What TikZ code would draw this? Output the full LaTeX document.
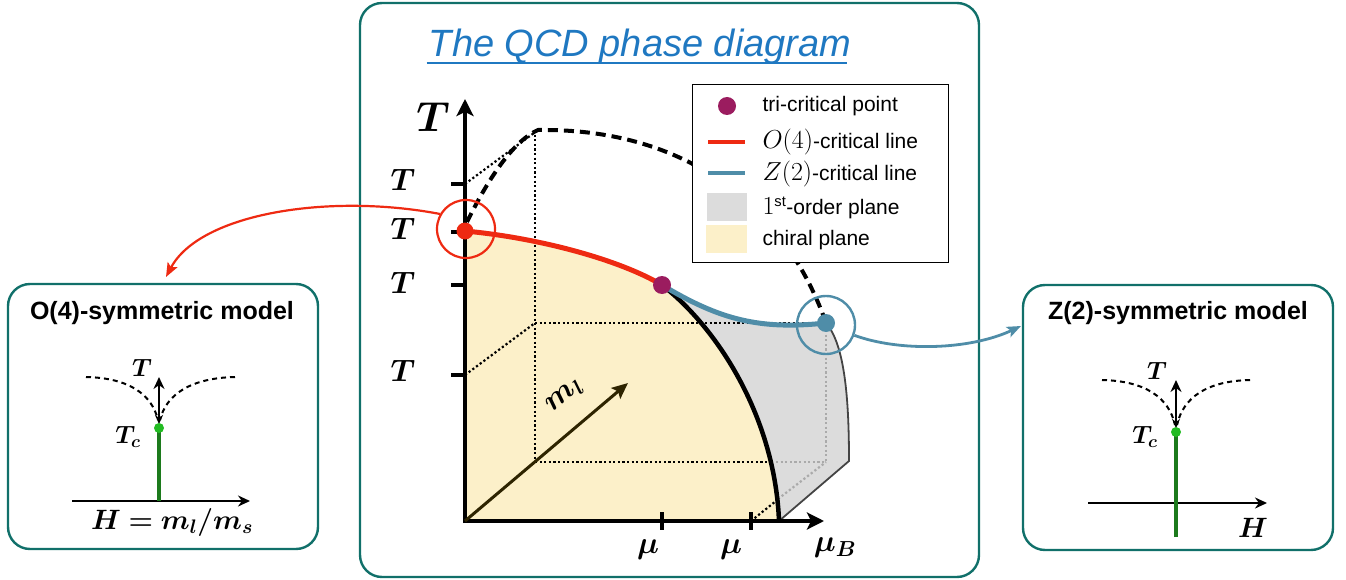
\documentclass[tikz,border=0pt]{standalone}
\usepackage{fix-cm}
\usepackage{amsmath}
\usepackage{bm}
\usepackage{fontspec}
\setsansfont{Liberation Sans}
\usetikzlibrary{arrows.meta}
\definecolor{teal1}{HTML}{11706A}
\definecolor{tblue}{HTML}{1F78C1}
\definecolor{cred}{HTML}{EE2A12}
\definecolor{cblue}{HTML}{4F8DA8}
\definecolor{cpurple}{HTML}{9B1C5F}
\definecolor{cyellow}{HTML}{FCF0C9}
\definecolor{cgray}{HTML}{DCDCDC}
\definecolor{cgreen}{HTML}{1C7A1C}
\definecolor{cgreenb}{HTML}{22BB22}
\definecolor{cbrown}{HTML}{2E2400}
\definecolor{dgray}{HTML}{444444}
\definecolor{lgray}{HTML}{AAAAAA}
\newcommand{\legmath}[1]{{\fontsize{26}{28}\selectfont$#1$}}
\tikzset{
  panel/.style={draw=teal1, line width=2.4pt, rounded corners=22pt, inner sep=0pt},
  axisline/.style={line width=3.5pt, -{Stealth[length=17pt,width=17pt,inset=4pt]}},
  tickline/.style={line width=3.5pt},
  dotline/.style={line width=2.2pt, dash pattern=on 2.2pt off 2.4pt},
  gdotline/.style={line width=2.2pt, lgray, dash pattern=on 2.2pt off 2.4pt},
  bigdash/.style={line width=4pt, dash pattern=on 10pt off 6pt},
  smalldash/.style={line width=2pt, dash pattern=on 5pt off 4pt},
  mlab/.style={font=\fontsize{31}{34}\selectfont},
  slab/.style={font=\fontsize{25}{28}\selectfont},
  legtext/.style={font=\sffamily\fontsize{21}{24}\selectfont, anchor=west},
  boxtitle/.style={font=\sffamily\bfseries\fontsize{25}{28}\selectfont},
  dot/.style={circle, inner sep=0pt, minimum size=#1},
  ring/.style={circle, inner sep=0pt, minimum size=58pt, line width=2.2pt},
  smallax/.style={line width=2.2pt, -{Stealth[length=12pt,width=11pt]}},
  dblarrow/.style={line width=1.8pt, {Stealth[length=9pt,width=8pt]}-{Stealth[length=12pt,width=11pt]}}
}
\begin{document}
\begin{tikzpicture}[x=1pt,y=-1pt]
\useasboundingbox (0,0) rectangle (1346,580);
% panels
\node[panel, minimum width=619pt, minimum height=574pt] (cbox) at (669.5,290) {};
\node[panel, minimum width=310pt, minimum height=265pt] (lbox) at (163,416.5) {};
\node[panel, minimum width=310pt, minimum height=265pt] (rbox) at (1178,417.5) {};
% title
\node[font=\sffamily\itshape\fontsize{38}{41}\selectfont, text=tblue, anchor=base, inner sep=0pt] (title) at (640,57) {The QCD phase diagram};
\draw[tblue, line width=1.6pt] (title.base west) ++(-2,6) -- ++(420,0);
% fills
\fill[cyellow] (465,521) -- (465,231) .. controls (540,238) and (620,260) .. (662,285)
  .. controls (720,330) and (775,420) .. (779,521) -- cycle;
\fill[cgray] (662,285) .. controls (720,330) and (775,420) .. (779,521) -- (849,461)
  .. controls (849,400) and (845,345) .. (826,323)
  .. controls (760,330) and (720,320) .. (662,285) -- cycle;
\draw[dgray, line width=1.8pt] (779,521) -- (849,461) .. controls (849,400) and (845,345) .. (826,323);
% dotted box lines
\draw[dotline] (465,184) -- (538,130);
\draw[dotline] (535,130) -- (535,462);
\draw[dotline] (535,462) -- (773,462);
\draw[gdotline] (776,462) -- (826,462);
\draw[dotline] (465,375) -- (535,323);
\draw[dotline] (535,323) -- (826,323);
\draw[gdotline] (826,330) -- (826,462);
\draw[dotline] (751,521) -- (776,501);
\draw[gdotline] (778,499) -- (826,462);
% dashed boundary
\draw[bigdash] (467,222) .. controls (490,175) and (515,140) .. (538,130)
  .. controls (700,128) and (790,220) .. (826,323);
% axes
\draw[axisline] (465,523) -- (465,99);
\draw[axisline] (463,521) -- (824,521);
\draw[cbrown, line width=3pt, -{Stealth[length=16pt,width=14pt,inset=3pt]}] (465,521) -- (628,383);
\node[mlab, rotate=40] (ml) at (565,396) {$\bm{m_l}$};
% ticks
\foreach \yy in {184,232,285,375} \draw[tickline] (451,\yy) -- (465,\yy);
\foreach \xx in {662,751} \draw[tickline] (\xx,512) -- (\xx,530);
\node[font=\fontsize{42}{46}\selectfont] (Tbig) at (433,117) {$\bm{T}$};
\node[mlab] (T1) at (403,180) {$\bm{T}$};
\node[mlab] (T2) at (403,229) {$\bm{T}$};
\node[mlab] (T3) at (403,283) {$\bm{T}$};
\node[mlab] (T4) at (403,371) {$\bm{T}$};
\node[mlab] (mu1) at (648,550) {$\bm{\mu}$};
\node[mlab] (mu2) at (731,550) {$\bm{\mu}$};
\node[mlab] (muB) at (835,548) {$\bm{\mu_B}$};
% critical lines
\draw[cred, line width=5pt] (465,231) .. controls (540,238) and (620,260) .. (662,285);
\draw[line width=4.5pt] (662,285) .. controls (720,330) and (775,420) .. (779,521);
\draw[cblue, line width=5pt] (662,285) .. controls (720,320) and (760,330) .. (826,323);
\node[dot=17pt, fill=cred] (rdot) at (465,231) {};
\node[dot=18pt, fill=cpurple] (pdot) at (662,285) {};
\node[dot=18pt, fill=cblue] (bdot) at (826,323) {};
\node[ring, draw=cred] (redring) at (466,229) {};
\node[ring, draw=cblue, line width=2.4pt] (bluering) at (826,325) {};
% legend
\node[draw, line width=1pt, fill=white, minimum width=256pt, minimum height=177pt, inner sep=0pt] (legend) at (820,173.5) {};
\node[dot=18pt, fill=cpurple] (lg1) at (727,106) {};
\draw[cred, line width=4.5pt] (708,142) -- (745,142);
\draw[cblue, line width=4.5pt] (708,173) -- (745,173);
\fill[cgray] (707,193) rectangle (747,221);
\fill[cyellow] (706,225) rectangle (747,253);
\node[legtext] (t1) at (759,106) {tri-critical point};
\node[legtext] (t2) at (759,142) {\legmath{O(4)}-critical line};
\node[legtext] (t3) at (759,174) {\legmath{Z(2)}-critical line};
\node[legtext] (t4) at (759,208) {\legmath{1}\textsuperscript{st}-order plane};
\node[legtext] (t5) at (759,240) {chiral plane};
% connectors
\coordinate (lend) at (166,277);
\coordinate (rend) at (1021,326);
\draw[cred, line width=2.2pt, -{Stealth[length=14pt,width=11pt,inset=3pt]}] (redring.150) .. controls (330,193) and (200,213) .. (lend);
\draw[cblue, line width=2.8pt, -{Stealth[length=14pt,width=11pt,inset=3pt]}] (bluering.-20) .. controls (900,352) and (970,350) .. (rend);
% left box
\node[boxtitle] (ltitle) at (162,313) {O(4)-symmetric model};
\draw[smallax] (72,501) -- (250,501);
\draw[cgreen, line width=3.5pt] (159,501) -- (159,428);
\draw[smalldash] (86,377) .. controls (130,378) and (152,395) .. (158,420);
\draw[smalldash] (235,377) .. controls (190,378) and (166,395) .. (160,420);
\draw[dblarrow] (159,424) -- (159,377);
\node[dot=10pt, fill=cgreenb] (lg) at (159,428) {};
\node[slab] (lT) at (142,368) {$\bm{T}$};
\node[slab] (lTc) at (128,437) {$\bm{T_c}$};
\node[font=\fontsize{28}{30}\selectfont] (lH) at (172,522) {$\bm{H = m_l/m_s}$};
% right box
\node[boxtitle] (rtitle) at (1178,313) {Z(2)-symmetric model};
\draw[smallax] (1088,503) -- (1267,503);
\draw[cgreen, line width=3.5pt] (1176,537) -- (1176,432);
\draw[smalldash] (1102,380) .. controls (1146,381) and (1169,398) .. (1175,425);
\draw[smalldash] (1250,380) .. controls (1206,381) and (1183,398) .. (1177,425);
\draw[dblarrow] (1176,428) -- (1176,380);
\node[dot=10pt, fill=cgreenb] (rg) at (1176,432) {};
\node[slab] (rT) at (1157,371) {$\bm{T}$};
\node[slab] (rTc) at (1145,437) {$\bm{T_c}$};
\node[font=\fontsize{28}{30}\selectfont] (rH) at (1253,528) {$\bm{H}$};
\end{tikzpicture}
\end{document}
